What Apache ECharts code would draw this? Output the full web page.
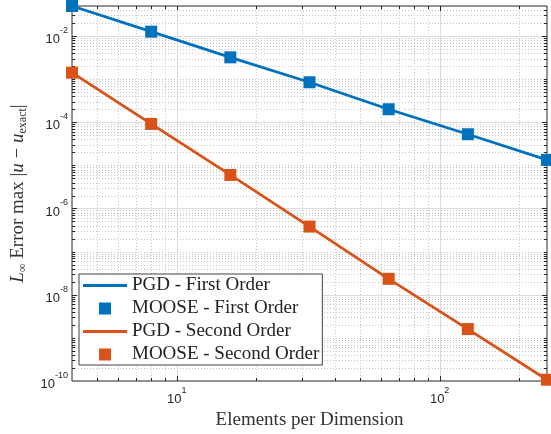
<!DOCTYPE html>
<html><head><meta charset="utf-8">
<script src="https://cdn.jsdelivr.net/npm/echarts@6/dist/echarts.min.js"></script>
<style>html,body{margin:0;padding:0;background:#fff}#c{width:551px;height:434px}</style>
</head><body><div id="c"></div>
<script>
// ---- data ----
const elements = [4, 8, 16, 32, 64, 128, 256];
const pgdFirst = [0.0496, 0.0126, 3.2e-3, 8.45e-4, 2.0e-4, 5.27e-5, 1.34e-5];
const mooseFirst = [0.0496, 0.0126, 3.2e-3, 8.45e-4, 2.0e-4, 5.27e-5, 1.34e-5];
const pgdSecond = [1.41e-3, 9.14e-5, 6.0e-6, 3.81e-7, 2.34e-8, 1.6e-9, 1.07e-10];
const mooseSecond = [1.41e-3, 9.14e-5, 6.0e-6, 3.81e-7, 2.34e-8, 1.6e-9, 1.07e-10];
const xTickExponents = [1, 2];
const yTickExponents = [-10, -8, -6, -4, -2];
const seriesNames = ['PGD - First Order', 'MOOSE - First Order', 'PGD - Second Order', 'MOOSE - Second Order'];

const BLUE = '#0072BD', ORANGE = '#D95319', AX = '#262626';
const lg = Math.log10;
const pairs = ys => elements.map((x, i) => [lg(x), lg(ys[i])]);
const allY = pgdFirst.concat(mooseFirst, pgdSecond, mooseSecond);
const xMinLog = lg(elements[0]), xMaxLog = lg(elements[elements.length - 1]);
const yMinLog = yTickExponents[0], yMaxLog = lg(Math.max(...allY));

// grid/tick positions of a log10 axis (major = labelled decade)
function logGrid(kind, lo, hi, majors) {
  const out = [];
  for (let n = Math.floor(lo) - 1; n <= Math.ceil(hi); n++) {
    for (let k = 1; k <= 9; k++) {
      const v = lg(k) + n;
      if (v <= lo + 1e-9 || v >= hi - 1e-9) continue;
      out.push([kind, v, (k === 1 && majors.includes(n)) ? 1 : 0]);
    }
  }
  return out;
}
const gridItems = logGrid(0, xMinLog, xMaxLog, xTickExponents).concat(logGrid(1, yMinLog, yMaxLog, yTickExponents));

const supLabel = v => '{b|10}{p|' + Math.round(v) + '}';
const tickRich = {
  b: {fontSize: 13, fontFamily: 'Liberation Sans, Arial, sans-serif', color: AX, lineHeight: 20, verticalAlign: 'bottom'},
  p: {fontSize: 9, fontFamily: 'Liberation Sans, Arial, sans-serif', color: AX, lineHeight: 12, verticalAlign: 'top'}
};
const SERIF = 'Liberation Serif, Times New Roman, serif';
const SQUARE = 'path://M0,0L10,0L10,10L0,10Z';
const LINE = 'path://M0,0L44,0L44,2.8L0,2.8Z';

const chart = echarts.init(document.getElementById('c'));
chart.setOption({
  animation: false,
  backgroundColor: '#fff',
  grid: {left: 72, right: 4, top: 6, bottom: 53, show: true, borderColor: AX, borderWidth: 1,
         backgroundColor: '#fff', containLabel: false, outerBoundsMode: 'none'},
  xAxis: {
    type: 'value', min: xMinLog, max: xMaxLog,
    axisLine: {show: false}, axisTick: {show: false}, splitLine: {show: false},
    axisLabel: {customValues: xTickExponents, formatter: supLabel, rich: tickRich, margin: 5},
    name: 'Elements per Dimension', nameLocation: 'middle', nameGap: 30,
    nameTextStyle: {fontFamily: SERIF, fontSize: 19, color: '#333'}
  },
  yAxis: {
    type: 'value', min: yMinLog, max: yMaxLog, interval: 2,
    axisLine: {show: false}, axisTick: {show: false}, splitLine: {show: false},
    axisLabel: {formatter: supLabel, rich: tickRich, margin: 4, showMaxLabel: false, showMinLabel: true},
    name: '{i|L}{s|∞} Error max |{i|u} − {i|u}{s|exact}|', nameLocation: 'middle', nameGap: 43, nameRotate: 90,
    nameTextStyle: {
      fontFamily: SERIF, fontSize: 19, color: '#333', lineHeight: 22,
      rich: {
        i: {fontFamily: SERIF, fontSize: 19, fontStyle: 'italic', color: '#333', lineHeight: 22},
        s: {fontFamily: SERIF, fontSize: 12, color: '#333', lineHeight: 12, verticalAlign: 'bottom'}
      }
    }
  },
  legend: {
    orient: 'vertical', left: 79, top: 274, padding: [2, 3, 1, 4], itemGap: 4,
    itemWidth: 44, itemHeight: 12,
    backgroundColor: '#fff', borderColor: '#404040', borderWidth: 1, borderRadius: 0,
    textStyle: {fontFamily: SERIF, fontSize: 19, color: '#222', lineHeight: 18},
    data: [
      {name: seriesNames[0], icon: LINE},
      {name: seriesNames[1], icon: SQUARE},
      {name: seriesNames[2], icon: LINE},
      {name: seriesNames[3], icon: SQUARE}
    ]
  },
  series: [
    {
      type: 'custom', name: 'grid', z: 1, clip: false, silent: true,
      data: gridItems,
      renderItem: (params, api) => {
        const kind = api.value(0), v = api.value(1), major = api.value(2);
        const cs = params.coordSys;
        const x0 = cs.x, x1 = cs.x + cs.width, y0 = cs.y, y1 = cs.y + cs.height;
        const tl = major ? 5 : 3;
        const gs = major ? {stroke: '#dcdcdc', lineWidth: 1} : {stroke: '#c6c6c6', lineWidth: 1, lineDash: [1, 2]};
        const ts = {stroke: AX, lineWidth: 1};
        let ch;
        if (kind === 0) {
          const px = Math.round(api.coord([v, yMaxLog])[0]) + 0.5;
          ch = [
            {type: 'line', shape: {x1: px, y1: y0, x2: px, y2: y1}, style: gs},
            {type: 'line', shape: {x1: px, y1: y1, x2: px, y2: y1 - tl}, style: ts},
            {type: 'line', shape: {x1: px, y1: y0, x2: px, y2: y0 + tl}, style: ts}
          ];
        } else {
          const py = Math.round(api.coord([xMinLog, v])[1]) + 0.5;
          ch = [
            {type: 'line', shape: {x1: x0, y1: py, x2: x1, y2: py}, style: gs},
            {type: 'line', shape: {x1: x0, y1: py, x2: x0 + tl, y2: py}, style: ts},
            {type: 'line', shape: {x1: x1, y1: py, x2: x1 - tl, y2: py}, style: ts}
          ];
        }
        return {type: 'group', children: ch};
      }
    },
    {type: 'line', name: seriesNames[0], data: pairs(pgdFirst), symbol: 'none', showSymbol: false, z: 2,
     lineStyle: {color: BLUE, width: 2.8}, itemStyle: {color: BLUE}},
    {type: 'scatter', name: seriesNames[1], data: pairs(mooseFirst), symbol: 'rect', symbolSize: 12, z: 3,
     itemStyle: {color: BLUE, opacity: 1}},
    {type: 'line', name: seriesNames[2], data: pairs(pgdSecond), symbol: 'none', showSymbol: false, z: 2,
     lineStyle: {color: ORANGE, width: 2.8}, itemStyle: {color: ORANGE}},
    {type: 'scatter', name: seriesNames[3], data: pairs(mooseSecond), symbol: 'rect', symbolSize: 12, z: 3,
     itemStyle: {color: ORANGE, opacity: 1}}
  ]
});
</script></body></html>
